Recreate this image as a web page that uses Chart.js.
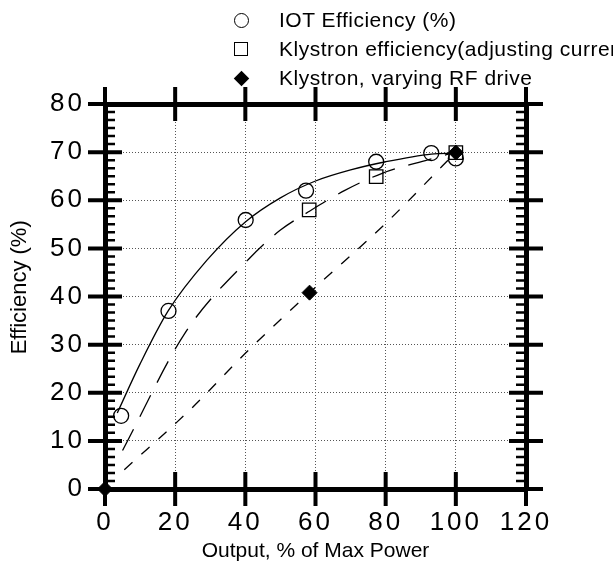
<!DOCTYPE html>
<html>
<head>
<meta charset="utf-8">
<script src="https://cdn.jsdelivr.net/npm/chart.js@4.4.1/dist/chart.umd.min.js"></script>
<style>
  html, body { margin: 0; padding: 0; background: #fff; overflow: hidden; }
  #wrap { position: relative; width: 613px; height: 564px; overflow: hidden; }
  #chart { position: absolute; left: 0; top: 0; }
  .leg { position: absolute; left: 0; height: 24px; line-height: 24px; white-space: nowrap;
         font-family: "Liberation Sans", Arial, sans-serif; font-size: 21px; letter-spacing: 0.5px; color: #000; }
  .leg span { position: absolute; left: 279px; top: 0; }
  .mk { position: absolute; box-sizing: border-box; }
  .mk.circle { left: 234px; top: 5px; width: 15px; height: 15px; border: 1.4px solid #000; border-radius: 50%; }
  .mk.square { left: 234px; top: 5px; width: 14px; height: 14px; border: 1.4px solid #000; }
  .mk.diamond { left: 236px; top: 7px; width: 11px; height: 11px; background: #000; transform: rotate(45deg); }
</style>
</head>
<body>
<div id="wrap">
  <canvas id="chart" width="613" height="564"></canvas>
  <div class="leg" style="top:8px"><div class="mk circle"></div><span>IOT Efficiency (%)</span></div>
  <div class="leg" style="top:37px"><div class="mk square"></div><span>Klystron efficiency(adjusting current)</span></div>
  <div class="leg" style="top:66px"><div class="mk diamond"></div><span>Klystron, varying RF drive</span></div>
</div>
<script>
// axis ticks
const xTicks = [0, 20, 40, 60, 80, 100, 120];
const yTicks = [0, 10, 20, 30, 40, 50, 60, 70, 80];

// measured points
const iotX = [4.6, 18.1, 40.1, 57.3, 77.3, 93.0, 100];
const iotY = [15.2, 37.0, 55.9, 62.0, 68.0, 69.8, 68.7];
const klyX = [58.2, 77.3, 100];
const klyY = [58.0, 64.9, 69.9];
const rfX = [0, 58.3, 100];
const rfY = [0, 40.8, 69.9];

// fitted curves
const iotFitX = [3.5, 10, 18, 29, 40, 50, 60, 70, 80, 93, 100];
const iotFitY = [15.8, 26, 37, 47.5, 55.5, 60.5, 64, 66.3, 68, 69.6, 69.8];
const klyFitX = [5, 22.8, 41, 50, 58, 68.5, 79, 92, 100];
const klyFitY = [8, 32.4, 47.8, 53.8, 57.6, 62.1, 65.6, 68.4, 70];
const rfFitX = [5.5, 25, 40, 58.3, 80, 96, 100];
const rfFitY = [4, 17, 28.2, 40.8, 55.2, 67, 70];

const pts = (xs, ys) => xs.map((x, i) => ({ x: x, y: ys[i] }));

const FONT = '"Liberation Sans", Arial, sans-serif';

// thick crossing ticks + small inner ticks on the frame
const frameTicks = {
  id: 'frameTicks',
  beforeDatasetsDraw(chart) {
    const { ctx, chartArea: a, scales: { x, y } } = chart;
    ctx.save();
    ctx.strokeStyle = '#000';
    ctx.lineWidth = 4;
    ctx.beginPath();
    xTicks.forEach(v => {
      const px = x.getPixelForValue(v);
      ctx.moveTo(px, a.top - 17); ctx.lineTo(px, a.top + 17);
      ctx.moveTo(px, a.bottom - 17); ctx.lineTo(px, a.bottom + 17);
    });
    yTicks.forEach(v => {
      const py = y.getPixelForValue(v);
      ctx.moveTo(a.left - 17, py); ctx.lineTo(a.left + 17, py);
      ctx.moveTo(a.right - 17, py); ctx.lineTo(a.right + 17, py);
    });
    ctx.stroke();
    ctx.lineWidth = 2.5;
    ctx.beginPath();
    for (let i = 0; i <= 48; i++) {
      const py = y.getPixelForValue(i * 10 / 6);
      ctx.moveTo(a.left, py); ctx.lineTo(a.left + 10, py);
      ctx.moveTo(a.right, py); ctx.lineTo(a.right - 10, py);
    }
    ctx.stroke();
    ctx.restore();
  },
  afterDatasetsDraw(chart) {
    chart.ctx.letterSpacing = '3px';   // wide digits on the tick labels
  },
  afterDraw(chart) {
    chart.ctx.letterSpacing = '0px';
  }
};

const hidden = { display: false };

new Chart(document.getElementById('chart'), {
  type: 'scatter',
  data: {
    datasets: [
      { label: 'IOT Efficiency (%)', data: pts(iotX, iotY), pointStyle: 'circle', pointRadius: 7.5,
        pointBorderWidth: 1.3, borderColor: '#000', backgroundColor: 'rgba(0,0,0,0)', clip: false },
      { label: 'Klystron efficiency(adjusting current)', data: pts(klyX, klyY), pointStyle: 'rect', pointRadius: 9.5,
        pointBorderWidth: 1.3, borderColor: '#000', backgroundColor: 'rgba(0,0,0,0)', clip: false },
      { label: 'Klystron, varying RF drive', data: pts(rfX, rfY), pointStyle: 'rectRot', pointRadius: 7.5,
        pointBorderWidth: 1, borderColor: '#000', backgroundColor: '#000', clip: false },
      { data: pts(iotFitX, iotFitY), showLine: true, pointRadius: 0, borderColor: '#000', borderWidth: 1.3,
        cubicInterpolationMode: 'monotone' },
      { data: pts(klyFitX, klyFitY), showLine: true, pointRadius: 0, borderColor: '#000', borderWidth: 1.3,
        borderDash: [24, 14], cubicInterpolationMode: 'monotone' },
      { data: pts(rfFitX, rfFitY), showLine: true, pointRadius: 0, borderColor: '#000', borderWidth: 1.3,
        borderDash: [11, 12], cubicInterpolationMode: 'monotone' }
    ]
  },
  options: {
    responsive: false,
    animation: false,
    events: [],
    layout: { padding: { left: 0, right: 87, top: 104, bottom: 0 } },
    plugins: { legend: hidden, tooltip: { enabled: false } },
    scales: {
      x: {
        type: 'linear', position: 'bottom', min: 0, max: 120,
        afterFit: s => { s.height = 75; },
        afterBuildTicks: s => { s.ticks = xTicks.map(v => ({ value: v })); },
        ticks: { color: '#000', font: { family: FONT, size: 26 }, padding: 18, z: 1, maxRotation: 0, autoSkip: false },
        grid: { drawTicks: false, color: '#555', lineWidth: 1 },
        border: { display: true, color: '#000', width: 5, dash: [1, 2] },
        title: { display: true, text: 'Output, % of Max Power', color: '#000',
                 font: { family: FONT, size: 21 }, padding: { top: 0, bottom: 0 } }
      },
      xTop: {
        type: 'linear', position: 'top', min: 0, max: 120,
        afterFit: s => { s.height = 0; },
        ticks: hidden, grid: hidden,
        border: { display: true, color: '#000', width: 5 }
      },
      y: {
        type: 'linear', position: 'left', min: 0, max: 80,
        afterFit: s => { s.width = 105; },
        afterBuildTicks: s => { s.ticks = yTicks.map(v => ({ value: v })); },
        ticks: { color: '#000', font: { family: FONT, size: 26 }, padding: 20, z: 1 },
        grid: { drawTicks: false, color: '#555', lineWidth: 1 },
        border: { display: true, color: '#000', width: 5, dash: [1, 2] },
        // leading spaces lift the rotated title to where it sits in the original
        title: { display: true, text: '   Efficiency (%)', color: '#000',
                 font: { family: FONT, size: 22 }, padding: { top: 7, bottom: 0 } }
      },
      yRight: {
        type: 'linear', position: 'right', min: 0, max: 80,
        afterFit: s => { s.width = 0; },
        ticks: hidden, grid: hidden,
        border: { display: true, color: '#000', width: 5 }
      }
    }
  },
  plugins: [frameTicks]
});
</script>
</body>
</html>
